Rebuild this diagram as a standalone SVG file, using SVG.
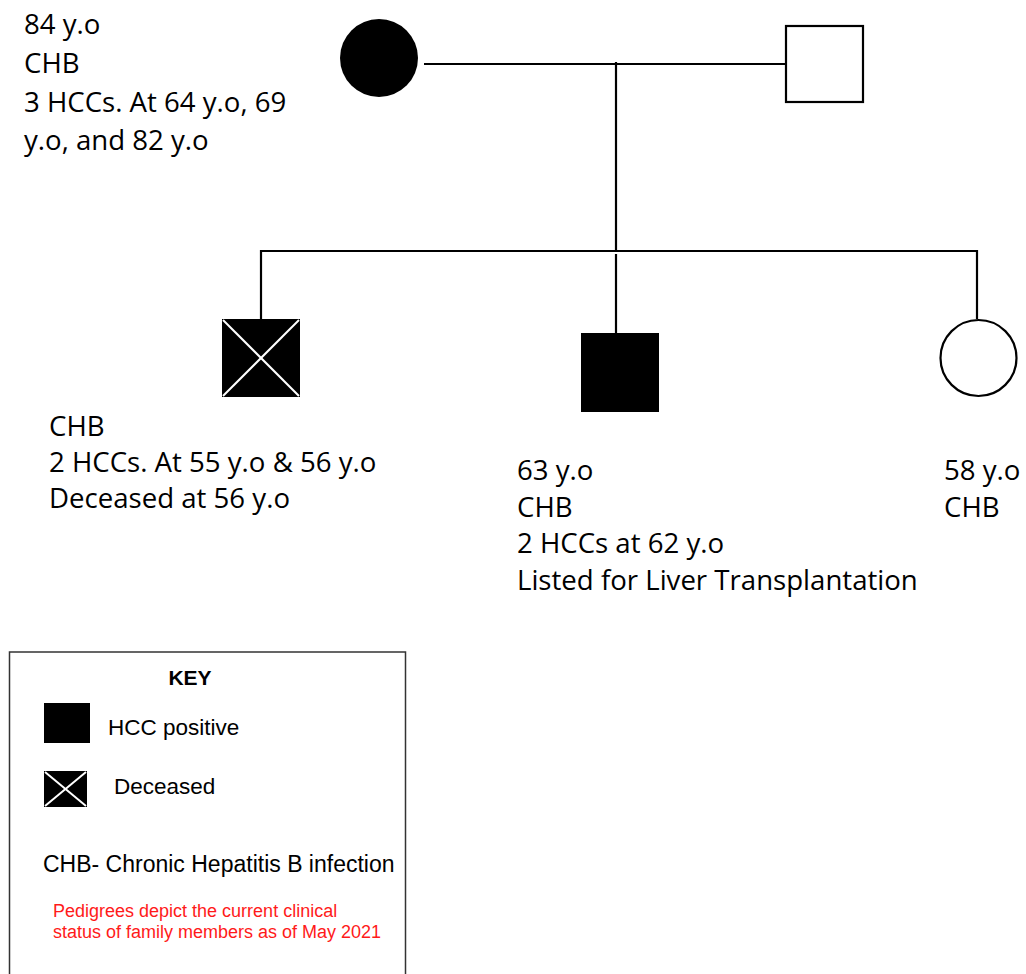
<svg xmlns="http://www.w3.org/2000/svg" width="1026" height="974" viewBox="0 0 1026 974">
<style>
.ln{stroke:#000;stroke-width:2.2;fill:none}
.lbl{font-family:"Open Sans","Noto Sans",sans-serif;font-size:27.6px;fill:#000}
.key{font-family:"Liberation Sans",Arial,sans-serif;fill:#000}
.red{font-family:"Liberation Sans",Arial,sans-serif;font-size:18px;fill:#ff1a1a}
.xw{stroke:#fff;stroke-width:2}
</style>
<rect width="1026" height="974" fill="#fff"/>
<g id="connectors">
<line class="ln" x1="424" y1="64" x2="785" y2="64"/>
<line class="ln" x1="616" y1="62" x2="616" y2="251"/>
<line class="ln" x1="261" y1="251" x2="978" y2="251"/>
<line class="ln" x1="261" y1="250" x2="261" y2="319"/>
<line class="ln" x1="616" y1="254" x2="616" y2="333"/>
<line class="ln" x1="977" y1="250" x2="977" y2="319"/>
</g>
<g id="mother">
<circle cx="379" cy="58" r="39" fill="#000"/>
<text class="lbl" x="24" y="34">84 y.o</text>
<text class="lbl" x="24" y="73">CHB</text>
<text class="lbl" x="24" y="112">3 HCCs. At 64 y.o, 69</text>
<text class="lbl" x="24" y="150">y.o, and 82 y.o</text>
</g>
<g id="father">
<rect x="786" y="26" width="77" height="76" fill="#fff" stroke="#000" stroke-width="2.2"/>
</g>
<g id="son1">
<rect x="222" y="319" width="78" height="78" fill="#000"/>
<line class="xw" x1="223" y1="320" x2="299" y2="396"/>
<line class="xw" x1="299" y1="320" x2="223" y2="396"/>
<text class="lbl" x="49" y="436">CHB</text>
<text class="lbl" x="49" y="472">2 HCCs. At 55 y.o &amp; 56 y.o</text>
<text class="lbl" x="49" y="508">Deceased at 56 y.o</text>
</g>
<g id="son2">
<rect x="581" y="333" width="78" height="79" fill="#000"/>
<text class="lbl" x="517" y="480">63 y.o</text>
<text class="lbl" x="517" y="517">CHB</text>
<text class="lbl" x="517" y="553">2 HCCs at 62 y.o</text>
<text class="lbl" x="517" y="590">Listed for Liver Transplantation</text>
</g>
<g id="daughter">
<circle cx="978.5" cy="358" r="38" fill="#fff" stroke="#000" stroke-width="2.2"/>
<text class="lbl" x="944" y="480">58 y.o</text>
<text class="lbl" x="944" y="517">CHB</text>
</g>
<g id="legend">
<rect x="9.5" y="652" width="396" height="340" fill="#fff" stroke="#333" stroke-width="1.5"/>
<text class="key" x="190" y="685" font-size="21" font-weight="bold" text-anchor="middle">KEY</text>
<rect x="44" y="703" width="46" height="40" fill="#000"/>
<text class="key" x="108" y="735" font-size="22.5">HCC positive</text>
<rect x="44" y="771" width="43" height="36" fill="#000"/>
<line class="xw" x1="45" y1="772" x2="86" y2="806" stroke-width="1.3"/>
<line class="xw" x1="86" y1="772" x2="45" y2="806" stroke-width="1.3"/>
<text class="key" x="114" y="794" font-size="22.5">Deceased</text>
<text class="key" x="43" y="872" font-size="23">CHB- Chronic Hepatitis B infection</text>
<text class="red" x="53" y="917">Pedigrees depict the current clinical</text>
<text class="red" x="53" y="938">status of family members as of May 2021</text>
</g>
</svg>
